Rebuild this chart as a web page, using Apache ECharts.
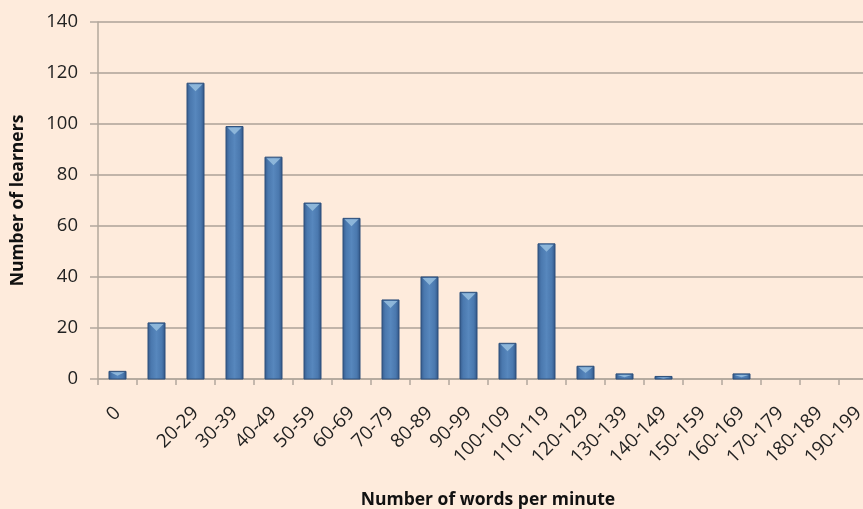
<!DOCTYPE html>
<html>
<head>
<meta charset="utf-8">
<script src="https://cdn.jsdelivr.net/npm/echarts@6/dist/echarts.min.js"></script>
<style>
html,body{margin:0;padding:0;background:#FEEBDC;}
#chart{width:863px;height:509px;}
</style>
</head>
<body>
<div id="chart"></div>
<script>
const categories = ['0', '', '20-29', '30-39', '40-49', '50-59', '60-69', '70-79', '80-89', '90-99', '100-109', '110-119', '120-129', '130-139', '140-149', '150-159', '160-169', '170-179', '180-189', '190-199'];
const learners = [3, 22, 116, 99, 87, 69, 63, 31, 40, 34, 14, 53, 5, 2, 1, 0, 2, 0, 0, 0];
const yTicks = { min: 0, max: 140, interval: 20 };
const xTitle = 'Number of words per minute';
const yTitle = 'Number of learners';

const font = '"Open Sans", Lato, sans-serif';
const barGrad = new echarts.graphic.LinearGradient(0, 0, 1, 0, [
  { offset: 0, color: '#34598A' },
  { offset: 0.2, color: '#4A78AE' },
  { offset: 0.5, color: '#5787BD' },
  { offset: 0.8, color: '#4A78AE' },
  { offset: 1, color: '#2F5383' }
]);
function renderBar(params, api) {
  const v = api.value(1);
  if (!v) return null;
  const top = api.coord([api.value(0), v]);
  const base = api.coord([api.value(0), 0]);
  const w = 17;
  const x0 = top[0] - w / 2;
  const h = base[1] - top[1];
  const th = Math.min(7, h * 0.45);
  return {
    type: 'group',
    children: [
      { type: 'rect', shape: { x: x0, y: top[1], width: w, height: h },
        style: { fill: barGrad, stroke: '#2D4F7A', lineWidth: 1 } },
      { type: 'polygon', shape: { points: [[x0 + 1.5, top[1] + 1], [x0 + w - 1.5, top[1] + 1], [top[0], top[1] + 1 + th]] },
        style: { fill: '#93BBDD', opacity: 0.9 } }
    ]
  };
}
const chart = echarts.init(document.getElementById('chart'), null, { renderer: 'canvas' });
chart.setOption({
  backgroundColor: '#FEEBDC',
  animation: false,
  grid: { left: 98, top: 22, width: 780, height: 357, containLabel: false, outerBoundsMode: 'none' },
  xAxis: {
    type: 'category',
    data: categories,
    name: xTitle,
    nameLocation: 'middle',
    nameGap: 112,
    nameTextStyle: { fontFamily: font, fontWeight: 'bold', fontSize: 17.5, color: '#111' },
    axisLine: { lineStyle: { color: '#B3A89D', width: 1.5 } },
    axisTick: { show: true, length: 6, lineStyle: { color: '#B3A89D', width: 1.5 } },
    axisLabel: { rotate: 45, margin: 31, fontFamily: font, fontSize: 19, color: '#222', interval: 0 }
  },
  yAxis: {
    type: 'value',
    min: yTicks.min, max: yTicks.max, interval: yTicks.interval,
    name: yTitle,
    nameLocation: 'middle',
    nameGap: 71,
    nameTextStyle: { fontFamily: font, fontWeight: 'bold', fontSize: 17.5, color: '#111' },
    axisLine: { show: true, lineStyle: { color: '#B3A89D', width: 1.5 } },
    axisTick: { show: true, length: 8, lineStyle: { color: '#B3A89D', width: 1.5 } },
    axisLabel: { margin: 20, fontFamily: font, fontSize: 18.5, color: '#222' },
    splitLine: { show: true, lineStyle: { color: '#ADA298', width: 1.5 } }
  },
  series: [{
    type: 'custom',
    renderItem: renderBar,
    encode: { x: 0, y: 1 },
    data: learners.map((v, i) => [i, v])
  }]
});
</script>
</body>
</html>
